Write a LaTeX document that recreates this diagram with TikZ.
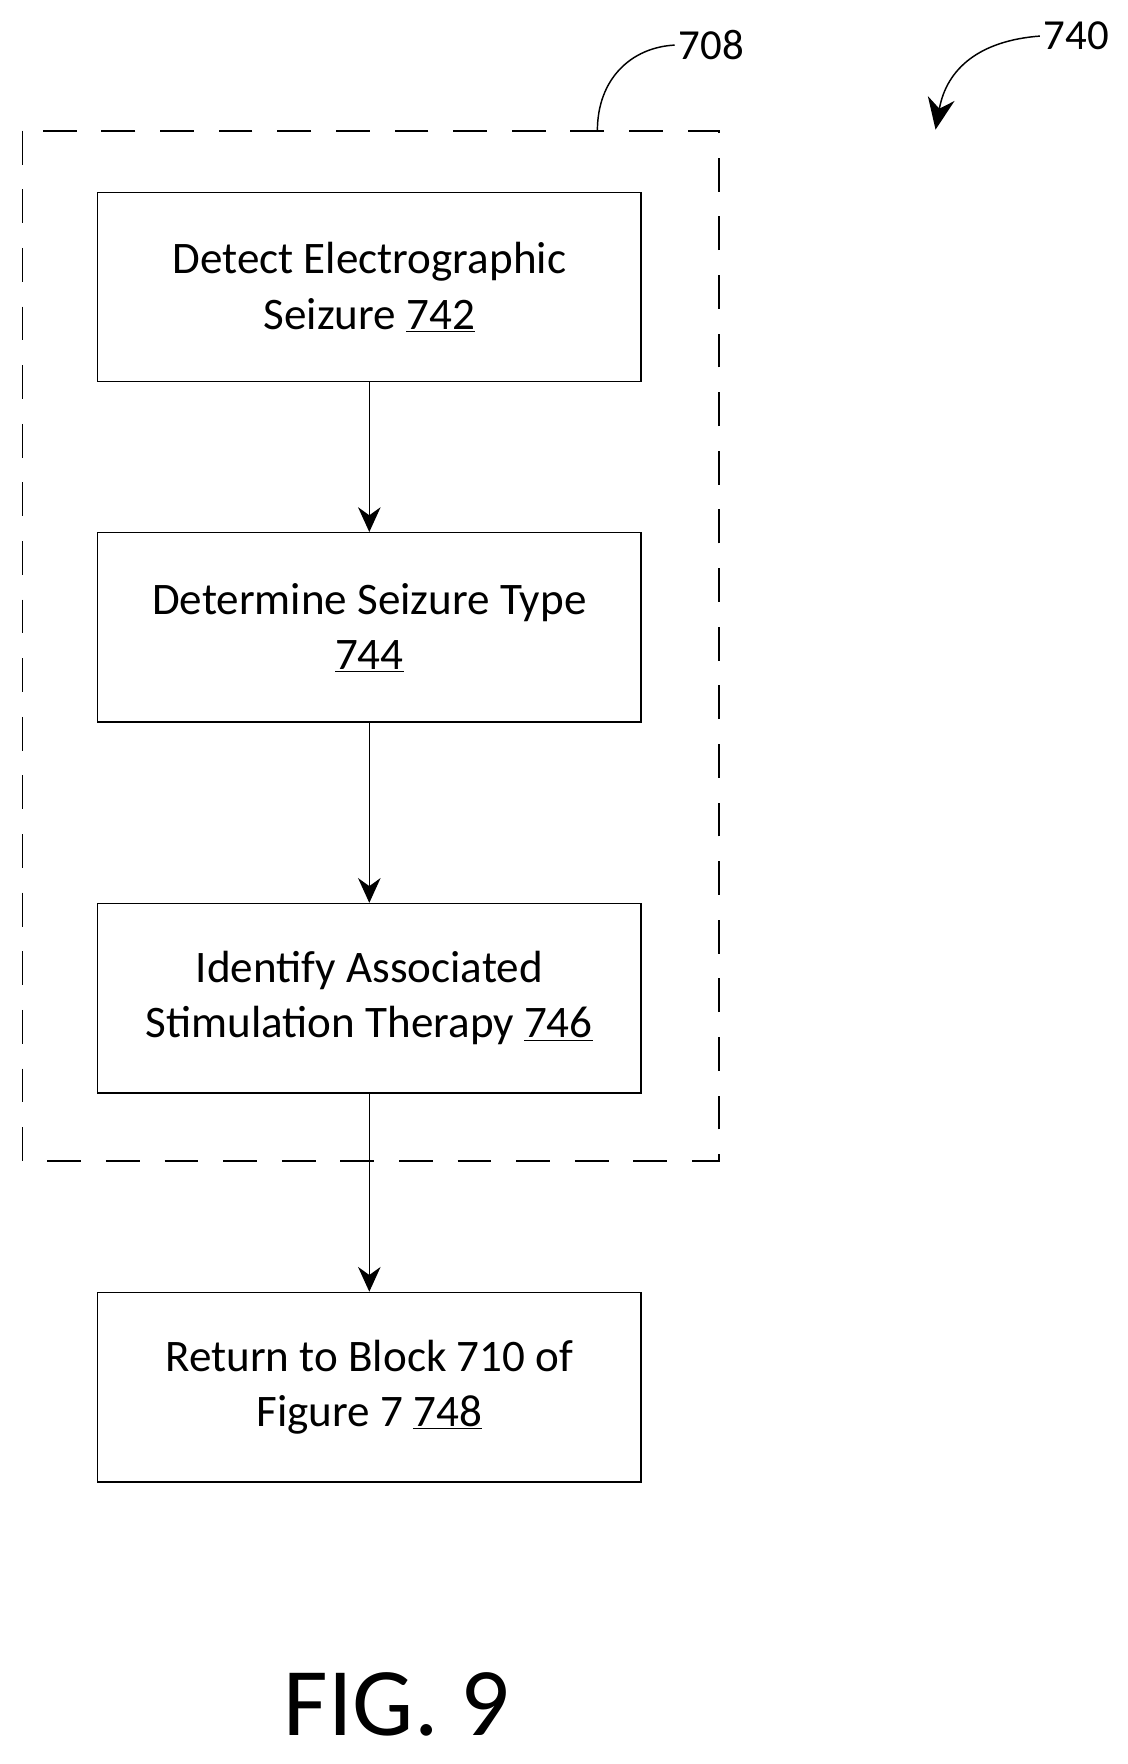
\documentclass[tikz,border=0pt]{standalone}
\usepackage{fontspec}
\setmainfont{Carlito}
\usetikzlibrary{arrows.meta}
\begin{document}
\begin{tikzpicture}[x=1pt,y=-1pt,
  box/.style={draw,line width=1.3pt,minimum width=482pt,minimum height=168pt,align=center,font=\fontsize{40}{49}\selectfont,anchor=north west,inner sep=0pt},
  arr/.style={line width=1.2pt,-{Stealth[length=22pt,width=20pt]}}]
\useasboundingbox (0,0) rectangle (1000,1565);
\draw[line width=1.5pt,dash pattern=on 30pt off 22pt] (20,116) rectangle (638,1030);
\node[box] (b1) at (86,170) {Detect Electrographic\\Seizure \underline{742}};
\node[box] (b2) at (86,472) {Determine Seizure Type\\\underline{744}};
\node[box] (b3) at (86,801) {Identify Associated\\Stimulation Therapy \underline{746}};
\node[box] (b4) at (86,1146) {Return to Block 710 of\\Figure 7 \underline{748}};
\draw[arr] (b1.south) -- (b2.north);
\draw[arr] (b2.south) -- (b3.north);
\draw[arr] (b3.south) -- (b4.north);
\node[font=\fontsize{38}{40}\selectfont] (l708) at (631,40) {708};
\coordinate (c708) at (530,116);
\draw[line width=1.3pt] (c708) .. controls (530,70) and (560,42) .. (l708.west);
\node[font=\fontsize{38}{40}\selectfont] (l740) at (955,32) {740};
\coordinate (c740) at (830,115);
\draw[line width=1.3pt,-{Stealth[length=28pt,width=24pt]}] (l740.west) .. controls (870,36) and (840,60) .. (c740);
\node[font=\fontsize{86}{90}\selectfont] (fig) at (352,1512) {FIG. 9};
\end{tikzpicture}
\end{document}
